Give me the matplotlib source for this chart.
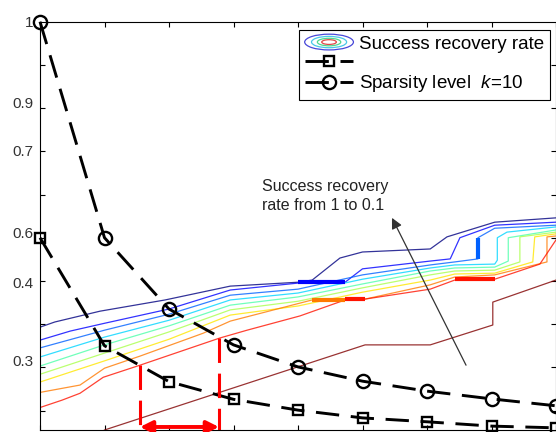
import matplotlib
matplotlib.use("Agg")
import matplotlib.pyplot as plt
import matplotlib.patches as mpatches
from matplotlib.legend_handler import HandlerBase

plt.rcParams['font.family'] = ['Liberation Sans', 'DejaVu Sans']
plt.rcParams['mathtext.fontset'] = 'custom'
plt.rcParams['mathtext.it'] = 'Liberation Sans:italic'
plt.rcParams['mathtext.rm'] = 'Liberation Sans'

# sparsity level curves (k = 10)
steps = [0, 1, 2, 3, 4, 5, 6, 7, 8]
square_vals = [0.50, 0.25, 0.167, 0.126, 0.101, 0.083, 0.074, 0.064, 0.060]
circle_vals = [1.00, 0.50, 0.335, 0.252, 0.201, 0.168, 0.145, 0.127, 0.111]

# success recovery rate contours, one polyline per level
rate_01_x = [0, 0.23, 0.93, 1.94, 2.95, 4.0, 4.22, 4.65, 5.0, 6.05, 6.31, 7.05, 8.0]
rate_01_y = [0.293, 0.305, 0.330, 0.356, 0.388, 0.397, 0.402, 0.453, 0.467, 0.474, 0.502, 0.536, 0.546]
rate_02_x = [0, 0.47, 1.0, 2.0, 2.95, 4.0, 4.73, 5.0, 6.05, 6.36, 6.51, 7.05, 8.0]
rate_02_y = [0.263, 0.284, 0.302, 0.335, 0.379, 0.395, 0.397, 0.428, 0.446, 0.451, 0.500, 0.529, 0.536]
rate_03_x = [0, 1.0, 2.0, 2.95, 4.0, 5.0, 6.05, 6.43, 6.79, 6.79, 7.05, 8.0]
rate_03_y = [0.245, 0.286, 0.323, 0.367, 0.381, 0.414, 0.437, 0.444, 0.451, 0.500, 0.522, 0.529]
rate_04_x = [0, 1.0, 2.0, 2.95, 4.0, 5.0, 6.05, 6.43, 7.05, 7.09, 7.09, 7.24, 8.0]
rate_04_y = [0.224, 0.270, 0.309, 0.356, 0.372, 0.404, 0.430, 0.437, 0.439, 0.448, 0.500, 0.513, 0.525]
rate_05_x = [0, 1.0, 2.0, 2.95, 4.0, 5.0, 6.05, 6.43, 7.05, 7.26, 7.26, 8.0]
rate_05_y = [0.203, 0.252, 0.296, 0.344, 0.363, 0.393, 0.423, 0.430, 0.432, 0.446, 0.500, 0.518]
rate_06_x = [0, 1.0, 2.0, 2.95, 4.0, 5.0, 6.05, 6.43, 7.05, 7.44, 7.44, 8.0]
rate_06_y = [0.184, 0.233, 0.282, 0.333, 0.353, 0.384, 0.414, 0.423, 0.425, 0.444, 0.502, 0.513]
rate_07_x = [0, 1.0, 2.0, 2.95, 4.0, 5.0, 6.05, 6.43, 7.05, 7.64, 7.67, 8.0]
rate_07_y = [0.166, 0.215, 0.265, 0.321, 0.342, 0.374, 0.402, 0.416, 0.418, 0.444, 0.502, 0.509]
rate_08_x = [0, 0.62, 1.0, 1.55, 2.53, 2.95, 4.22, 5.04, 6.05, 6.43, 7.05, 7.86, 7.86, 8.0]
rate_08_y = [0.142, 0.159, 0.198, 0.226, 0.279, 0.307, 0.356, 0.358, 0.391, 0.409, 0.414, 0.444, 0.502, 0.504]
rate_09_x = [0, 0.34, 0.62, 0.98, 1.55, 2.79, 3.21, 4.03, 4.73, 5.04, 6.05, 6.43, 7.05, 7.75, 8.0]
rate_09_y = [0.107, 0.124, 0.140, 0.177, 0.205, 0.268, 0.286, 0.319, 0.356, 0.358, 0.381, 0.402, 0.404, 0.439, 0.495]
rate_10_x = [1.0, 5.04, 6.05, 7.02, 7.02, 8.0]
rate_10_y = [0.055, 0.252, 0.252, 0.298, 0.351, 0.402]

contours = [
    (0.1, rate_01_x, rate_01_y), (0.2, rate_02_x, rate_02_y),
    (0.3, rate_03_x, rate_03_y), (0.4, rate_04_x, rate_04_y),
    (0.5, rate_05_x, rate_05_y), (0.6, rate_06_x, rate_06_y),
    (0.7, rate_07_x, rate_07_y), (0.8, rate_08_x, rate_08_y),
    (0.9, rate_09_x, rate_09_y), (1.0, rate_10_x, rate_10_y),
]

# places where neighbouring levels run on top of each other
overlaps = [
    (0.2, [4.0, 4.73], [0.397, 0.397]),
    (0.8, [4.22, 4.73], [0.356, 0.356]),
    (0.9, [4.73, 5.04], [0.358, 0.358]),
    (0.9, [6.43, 7.05], [0.404, 0.404]),
    (0.3, [6.79, 6.79], [0.451, 0.500]),
]

# interval marked on the 0.9 contour
interval_x = [1.55, 2.775]
interval_top = [0.205, 0.268]

ytick_pos = [1.0, 0.814, 0.701, 0.512, 0.397, 0.217]
ytick_labels = ['1', '0.9', '0.7', '0.6', '0.4', '0.3']

jet = plt.get_cmap('jet')


def level_color(lev):
    return jet((lev - 0.1) / 0.9)


class RingsHandler(HandlerBase):
    def create_artists(self, legend, orig_handle, xdescent, ydescent,
                       width, height, fontsize, trans):
        cx = width / 2 - xdescent
        cy = height / 2 - ydescent
        rings = []
        for frac, c in zip([1.0, 0.72, 0.48, 0.3],
                           ['#4848d8', '#48c8e8', '#50d890', '#e04848']):
            rings.append(mpatches.Ellipse((cx, cy), width * frac, height * 1.2 * frac,
                                          fill=False, edgecolor=c, lw=0.9,
                                          transform=trans))
        return rings


fig = plt.figure(figsize=(5.56, 4.32), dpi=100)
ax = fig.add_axes([40 / 556, 2 / 432, 516 / 556, 408.3 / 432])

for lev, xs, ys in contours:
    ax.plot(xs, ys, color=level_color(lev), lw=0.9, alpha=0.8)
for lev, xs, ys in overlaps:
    ax.plot(xs, ys, color=level_color(lev), lw=3, solid_capstyle='butt')

sq_line, = ax.plot(steps, square_vals, color='black', lw=2.1, dashes=[8, 4],
                   marker='s', ms=7.5, mfc='none', mec='black', mew=1.7, clip_on=False)
ci_line, = ax.plot(steps, circle_vals, color='black', lw=2.1, dashes=[8, 4],
                   marker='o', ms=9.5, mfc='none', mec='black', mew=1.7, clip_on=False)

for xv, top in zip(interval_x, interval_top):
    ax.plot([xv, xv], [top, 0.0], color='red', lw=2.2, dashes=[8, 3.5])
ax.annotate('', xy=(interval_x[0], 0.062), xytext=(interval_x[1], 0.062),
            arrowprops=dict(arrowstyle='<|-|>', color='red', lw=2.8,
                            mutation_scale=18, shrinkA=0, shrinkB=0))

ax.annotate('', xy=(5.457, 0.546), xytext=(6.605, 0.205),
            arrowprops=dict(arrowstyle='-|>', color='#333333', lw=0.9,
                            mutation_scale=16, shrinkA=0, shrinkB=0))
ax.text(3.44, 0.596, 'Success recovery\nrate from 1 to 0.1', fontsize=11.5,
        ha='left', va='center', linespacing=1.3, color='#222222')

ax.set_xlim(0, 8)
ax.set_ylim(0.055, 1.0)
ax.set_xticks(steps)
ax.set_yticks([0.1 * i for i in range(1, 11)], minor=True)
ax.set_yticks(ytick_pos)
ax.set_yticklabels(ytick_labels)
ax.tick_params(which='both', direction='in', top=True, right=True,
               length=3.6, width=0.8, labelbottom=False)
ax.tick_params(axis='y', which='major', length=0, pad=5,
               labelsize=11, labelcolor='#333333')
for sp in ax.spines.values():
    sp.set_linewidth(0.8)

rings_proxy = mpatches.Ellipse((0, 0), 1, 1)
leg = ax.legend([rings_proxy, sq_line, ci_line],
                ['Success recovery rate', ' ', 'Sparsity level  $\\mathit{k}$=$\\mathit{10}$'],
                handler_map={mpatches.Ellipse: RingsHandler()},
                loc='upper right', bbox_to_anchor=(0.988, 0.980), borderaxespad=0,
                fontsize=13.5, handlelength=2.6, handletextpad=0.3,
                labelspacing=0.1, borderpad=0.3, fancybox=False,
                edgecolor='black', framealpha=1)
leg.get_frame().set_linewidth(0.8)

fig.savefig('out.png', dpi=100)
